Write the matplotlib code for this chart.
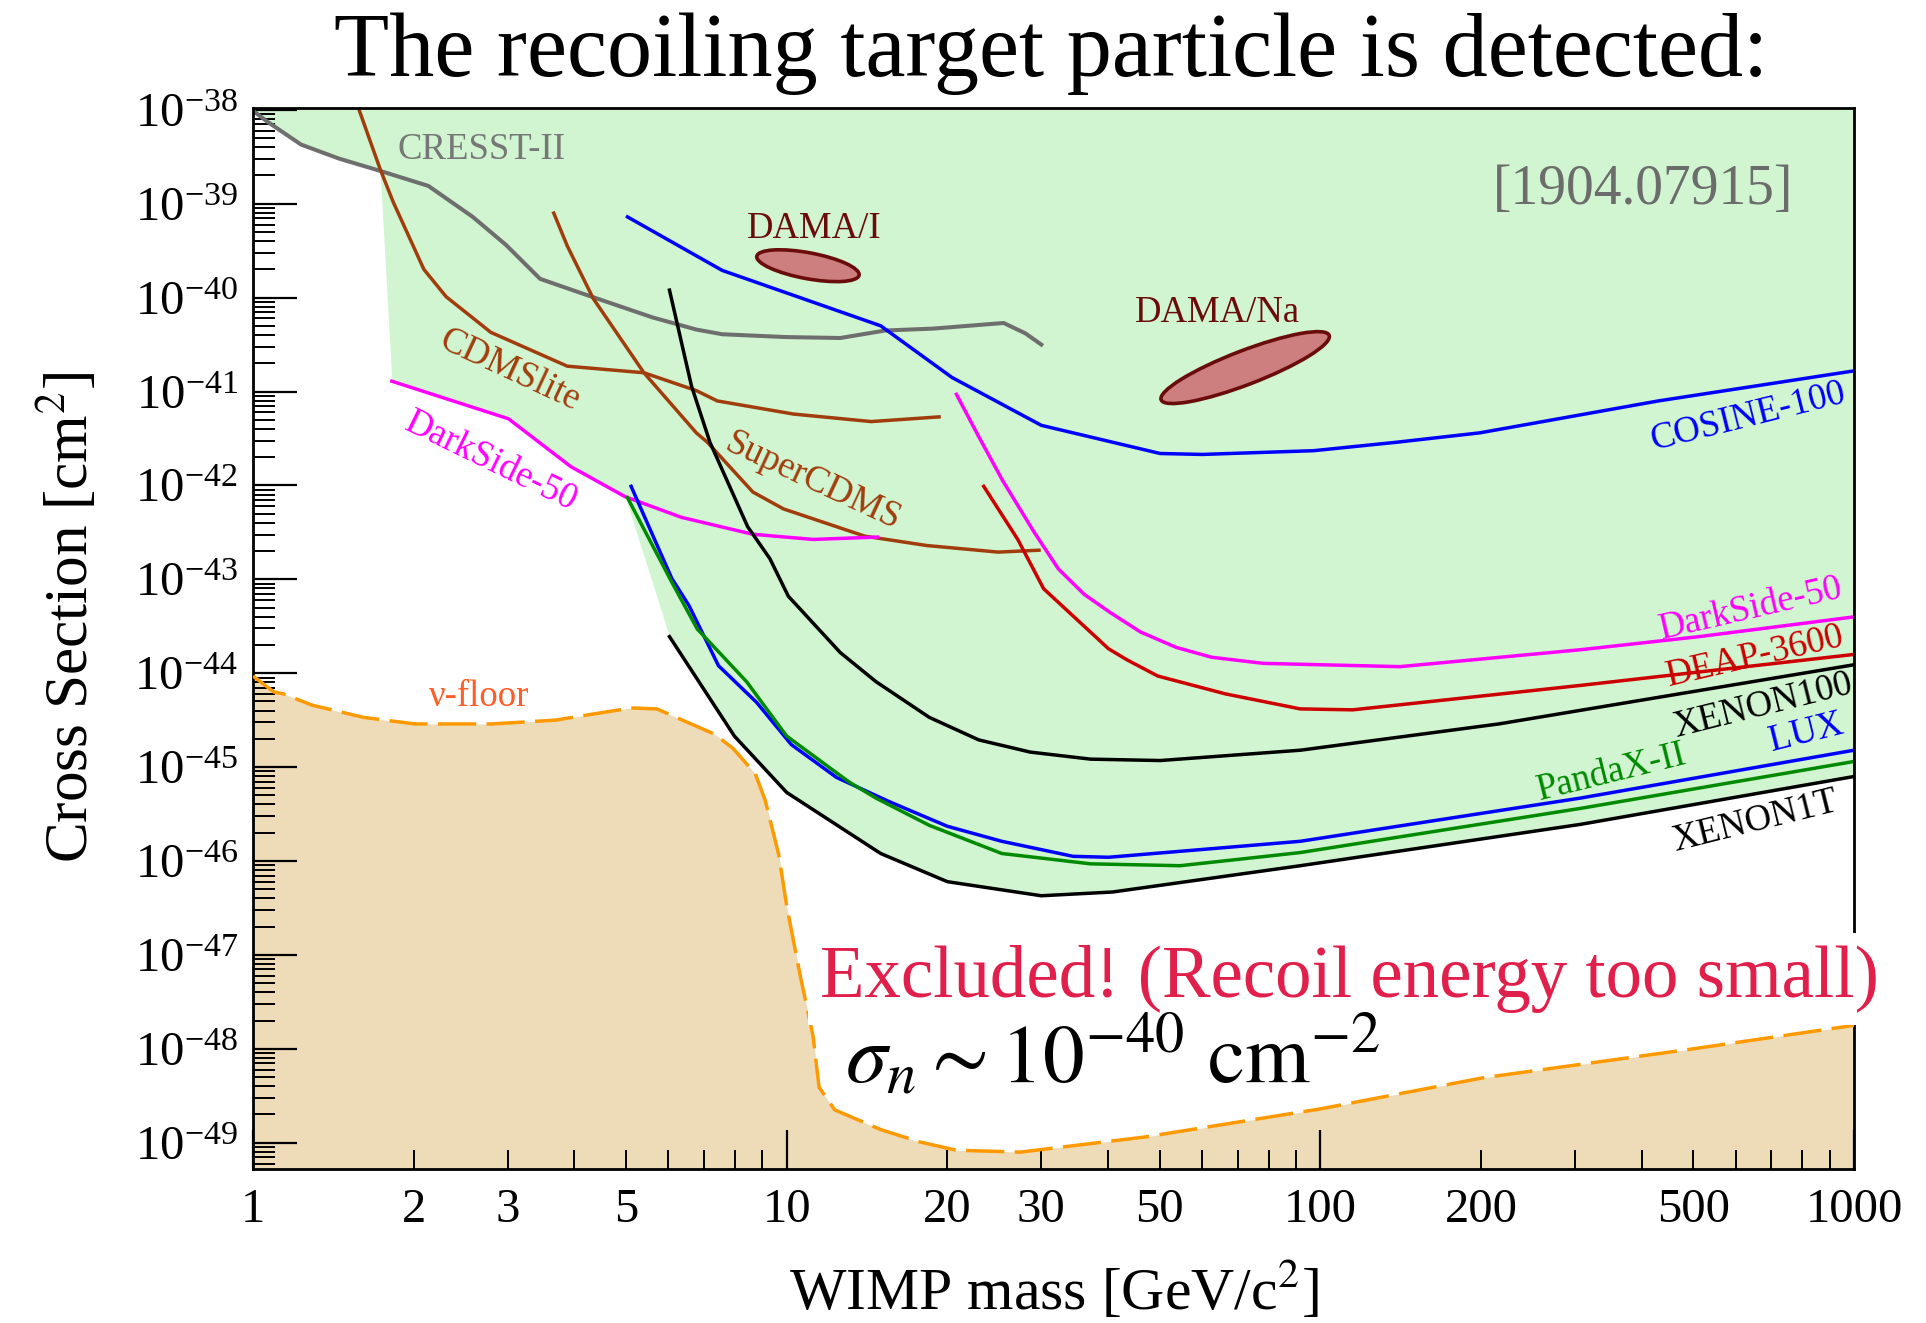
import numpy as np
import matplotlib
matplotlib.use('Agg')
import matplotlib.pyplot as plt
from matplotlib.ticker import FixedLocator, NullFormatter, LogFormatterSciNotation
from matplotlib.patches import Ellipse
from matplotlib.transforms import ScaledTranslation

plt.rcParams['font.family'] = ['Liberation Serif', 'DejaVu Serif']
plt.rcParams['mathtext.fontset'] = 'stix'

# WIMP mass in GeV/c^2, cross sections given as log10(sigma / cm^2)
cresst_m = [1.0, 1.066, 1.23, 1.45, 1.73, 2.13, 2.58, 2.98, 3.45, 4.11, 5.60, 6.77, 7.57,
            9.96, 12.6, 15.3, 18.8, 25.5, 28.0, 30.0]
cresst_s = [-38.01, -38.13, -38.37, -38.52, -38.65, -38.81, -39.14, -39.44, -39.80, -39.95,
            -40.21, -40.34, -40.39, -40.42, -40.43, -40.35, -40.33, -40.27, -40.38, -40.50]

cdmslite_m = [1.58, 1.73, 1.83, 2.09, 2.30, 2.79, 3.88, 5.40, 6.77, 7.41, 10.3, 14.4, 19.3]
cdmslite_s = [-38.0, -38.63, -38.98, -39.70, -39.99, -40.37, -40.73, -40.80, -40.99, -41.10,
              -41.24, -41.32, -41.27]

supercdms_m = [3.66, 3.88, 4.34, 5.40, 6.77, 7.10, 8.64, 9.86, 14.0, 18.3, 24.9, 29.7]
supercdms_s = [-39.10, -39.45, -40.01, -40.80, -41.44, -41.54, -42.07, -42.25, -42.54, -42.64,
               -42.71, -42.69]

ds_low_m = [1.82, 3.01, 3.94, 4.98, 6.35, 8.64, 11.2, 14.8]
ds_low_s = [-40.89, -41.29, -41.80, -42.12, -42.34, -42.52, -42.575, -42.55]

ds_high_m = [20.8, 22.9, 25.4, 29.1, 32.3, 36.1, 40.3, 46.0, 53.7, 62.6, 78.2, 141, 307, 513,
             1000]
ds_high_s = [-41.03, -41.48, -41.95, -42.50, -42.89, -43.16, -43.35, -43.56, -43.725, -43.83,
             -43.895, -43.93, -43.75, -43.61, -43.40]

cosine_m = [5.03, 7.57, 15.0, 20.4, 30.0, 50.1, 60.0, 97.2, 139, 199, 430, 1000]
cosine_s = [-39.14, -39.71, -40.30, -40.85, -41.36, -41.66, -41.67, -41.63, -41.54, -41.44,
            -41.10, -40.78]

deap_m = [23.4, 27.1, 30.3, 34.4, 40.1, 43.5, 49.6, 66.4, 91.7, 115, 307, 1000]
deap_s = [-42.01, -42.575, -43.10, -43.39, -43.74, -43.86, -44.03, -44.22, -44.38, -44.39,
          -44.13, -43.80]

xenon100_m = [6.03, 6.63, 7.18, 8.45, 9.30, 10.07, 12.6, 14.7, 18.5, 22.9, 28.6, 37.1, 50.1,
              91.7, 216, 1000]
xenon100_s = [-39.92, -40.94, -41.54, -42.44, -42.78, -43.18, -43.78, -44.09, -44.47, -44.71,
              -44.84, -44.915, -44.93, -44.82, -44.54, -43.91]

lux_m = [5.11, 6.09, 6.56, 7.45, 8.78, 10.2, 12.4, 15.6, 20.0, 25.3, 34.4, 40.1, 91.7, 307, 1000]
lux_s = [-42.01, -42.99, -43.28, -43.92, -44.31, -44.76, -45.11, -45.37, -45.63, -45.79, -45.95,
         -45.96, -45.79, -45.33, -44.82]

pandax_m = [5.03, 6.09, 6.80, 8.41, 10.0, 13.1, 14.7, 18.5, 25.3, 37.1, 54.6, 91.7, 307, 1000]
pandax_s = [-42.13, -43.03, -43.53, -44.09, -44.67, -45.16, -45.33, -45.62, -45.92, -46.03,
            -46.05, -45.91, -45.44, -44.94]

xenon1t_m = [6.03, 7.98, 10.0, 15.0, 20.0, 30.0, 40.8, 91.7, 307, 1000]
xenon1t_s = [-43.61, -44.67, -45.27, -45.92, -46.22, -46.37, -46.33, -46.05, -45.61, -45.10]

nufloor_m = [1.0, 1.094, 1.14, 1.29, 1.61, 2.01, 2.80, 3.68, 5.11, 5.71, 7.33, 7.93, 8.73,
             9.11, 9.66, 10.0, 10.6, 11.2, 11.5, 12.3, 15.0, 17.7, 20.8, 27.4, 46.8, 100,
             201, 500, 1000]
nufloor_s = [-44.03, -44.20, -44.22, -44.34, -44.47, -44.54, -44.54, -44.50, -44.37, -44.38,
             -44.65, -44.80, -45.07, -45.35, -45.93, -46.48, -47.22, -47.86, -48.41, -48.65,
             -48.86, -48.99, -49.08, -49.10, -48.94, -48.64, -48.31, -48.00, -47.75]

# DAMA allowed regions: centre (mass, log10 sigma)
dama_i = (10.96, -39.66)
dama_na = (72.3, -40.745)

x_decades = [1, 10, 100, 1000]
x_labelled = [2, 3, 5, 20, 30, 50, 200, 500]
y_decades = list(range(-49, -37))

# lower edge of the combined excluded region
excl_m = cresst_m[:5] + ds_low_m[:4] + xenon1t_m
excl_s = cresst_s[:5] + ds_low_s[:4] + xenon1t_s

brown = '#a13d0d'
magenta = '#ff00ff'
blue = '#0000ff'
green = '#008a00'
red = '#cc0000'
maroon = '#6b0c0c'

fig = plt.figure(figsize=(19.26, 13.23), dpi=100)
ax = fig.add_axes([0.1314, 0.1164, 0.9626 - 0.1314, 0.9184 - 0.1164])
ax.set_xscale('log')
ax.set_yscale('log')
ymin, ymax = 10**-49.28, 10**-37.98
ax.set_xlim(1, 1000)
ax.set_ylim(ymin, ymax)


def sig(s):
    return 10.0 ** np.asarray(s)


ax.fill_between(excl_m, sig(excl_s), 1e-36, color='#d0f5d0', lw=0, zorder=0.5)
ax.fill_between(nufloor_m, sig(nufloor_s), 1e-52, color='#eedbb8', lw=0, zorder=0.5)

lw = 2.5
ax.plot(cresst_m, sig(cresst_s), color='#6e6e6e', lw=2.9)
ax.plot(cdmslite_m, sig(cdmslite_s), color=brown, lw=lw)
ax.plot(supercdms_m, sig(supercdms_s), color=brown, lw=lw)
ax.plot(ds_low_m, sig(ds_low_s), color=magenta, lw=lw)
ax.plot(ds_high_m, sig(ds_high_s), color=magenta, lw=lw)
ax.plot(cosine_m, sig(cosine_s), color=blue, lw=lw)
ax.plot(deap_m, sig(deap_s), color=red, lw=lw)
ax.plot(xenon100_m, sig(xenon100_s), color='black', lw=lw)
ax.plot(lux_m, sig(lux_s), color=blue, lw=lw)
ax.plot(pandax_m, sig(pandax_s), color=green, lw=lw)
ax.plot(xenon1t_m, sig(xenon1t_s), color='black', lw=lw)
ax.plot(nufloor_m, sig(nufloor_s), color='#ff9900', lw=2.5, dashes=(11, 3), zorder=3)

# DAMA ellipses, sized in inches around their centre
for (m, s), w, h, ang in [(dama_i, 1.04, 0.26, -10.5), (dama_na, 1.80, 0.34, 21)]:
    tr = fig.dpi_scale_trans + ScaledTranslation(m, 10**s, ax.transData)
    ax.add_patch(Ellipse((0, 0), w, h, angle=ang, transform=tr, fc='#cd7f80',
                         ec=maroon, lw=2.6, zorder=3))

labels = [
    ('CRESST-II', 2.68, -38.43, '#777777', 0),
    ('CDMSlite', 3.03, -40.78, brown, -25),
    ('SuperCDMS', 11.2, -41.96, brown, -25),
    ('DarkSide-50', 2.79, -41.75, magenta, -26),
    ('DAMA/I', 11.26, -39.27, maroon, 0),
    ('DAMA/Na', 64.3, -40.16, maroon, 0),
    ('COSINE-100', 634, -41.27, blue, 14),
    ('DarkSide-50', 641, -43.31, magenta, 13),
    ('DEAP-3600', 654, -43.82, red, 13),
    ('XENON100', 676, -44.35, 'black', 14),
    ('LUX', 813, -44.64, blue, 14),
    ('PandaX-II', 352, -45.06, green, 14),
    ('XENON1T', 654, -45.58, 'black', 14),
    ('\u03bd-floor', 2.65, -44.25, '#ff5c26', 0),
]
for txt, m, s, c, rot in labels:
    ax.text(m, 10**s, txt, color=c, fontsize=26.5, rotation=rot, rotation_mode='anchor',
            ha='center', va='center', zorder=4)

ax.text(402, 10**-38.85, '[1904.07915]', color='#6c6c6c', fontsize=40,
        ha='center', va='center')

# axes styling
for sp in ax.spines.values():
    sp.set_linewidth(2.0)
y_minor = [k * 10.0**e for e in range(-50, -37) for k in range(2, 10)
           if ymin <= k * 10.0**e <= ymax]
ax.yaxis.set_major_locator(FixedLocator([10.0**e for e in y_decades]))
ax.yaxis.set_major_formatter(LogFormatterSciNotation())
ax.yaxis.set_minor_locator(FixedLocator(y_minor))
ax.yaxis.set_minor_formatter(NullFormatter())

x_minor = [k * d for d in x_decades[:-1] for k in range(2, 10)]
ax.xaxis.set_major_locator(FixedLocator(x_decades))
ax.xaxis.set_minor_locator(FixedLocator(x_minor))
ax.set_xticklabels([str(v) for v in x_decades])
ax.set_xticklabels([str(v) if v in x_labelled else '' for v in x_minor], minor=True)

ax.tick_params(which='both', direction='in', top=False, right=False, labelsize=35)
ax.tick_params(axis='y', which='major', length=32, width=1.6, pad=11)
ax.tick_params(axis='y', which='minor', length=16, width=1.4)
ax.tick_params(axis='x', which='major', length=28, width=1.6, pad=14)
ax.tick_params(axis='x', which='minor', length=14, width=1.4, pad=14)

ax.set_xlabel('WIMP mass [GeV/c$^2$]', fontsize=43)
ax.set_ylabel('Cross Section [cm$^2$]', fontsize=44)
ax.xaxis.set_label_coords(0.5, -0.085)
ax.yaxis.set_label_coords(-0.095, 0.52)

fig.text(0.546, 0.9426, 'The recoiling target particle is detected:', fontsize=65,
         ha='center', va='baseline')
fig.text(0.4258, 0.2464, 'Excluded! (Recoil energy too small)', fontsize=52.5,
         color='#e01f4b', ha='left', va='baseline', zorder=10,
         bbox=dict(boxstyle='square,pad=0.17', fc='white', ec='none'))
fig.text(0.4387, 0.1814, r'$\sigma_n \sim 10^{-40}\ \mathrm{cm}^{-2}$', fontsize=60,
         ha='left', va='baseline', zorder=11)

fig.savefig('out.png', dpi=100)
